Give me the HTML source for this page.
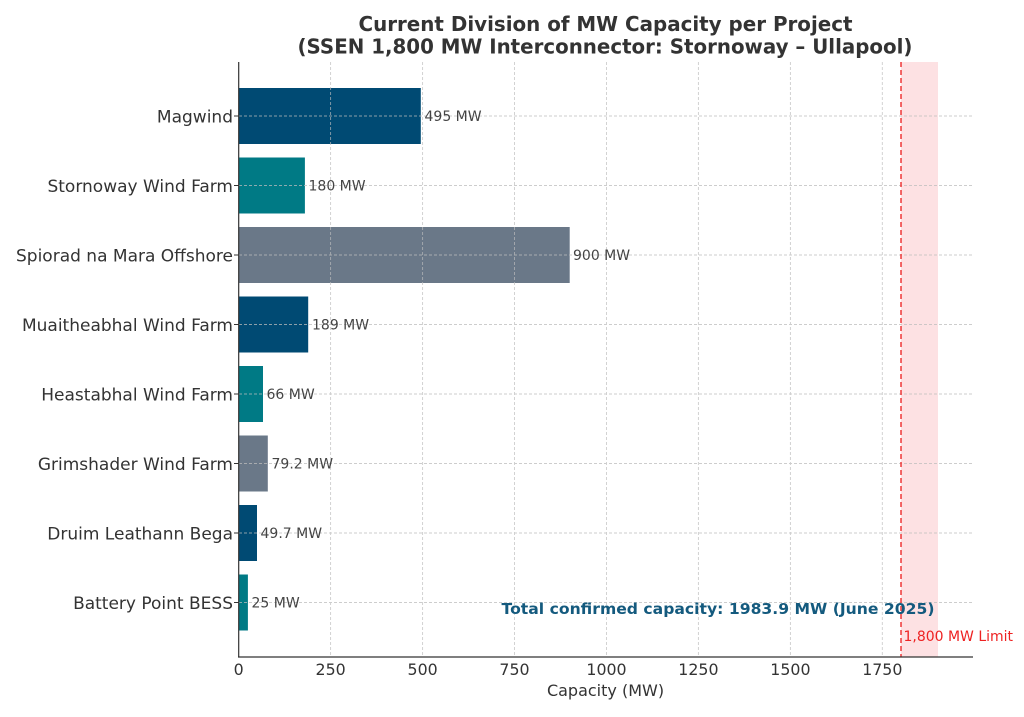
<!DOCTYPE html>
<html><head><meta charset="utf-8"><style>
html,body{margin:0;padding:0;background:#fff;}
svg{display:block;}
text{font-family:"DejaVu Sans","Liberation Sans",sans-serif;}
</style></head><body>
<svg width="1024" height="717" viewBox="0 0 1024 717" xmlns="http://www.w3.org/2000/svg">
<rect width="1024" height="717" fill="#fff"/>
<!-- title -->
<text x="605.5" y="31" text-anchor="middle" font-size="20" font-weight="bold" fill="#333" textLength="494" lengthAdjust="spacingAndGlyphs">Current Division of MW Capacity per Project</text>
<text x="605" y="53.5" text-anchor="middle" font-size="20" font-weight="bold" fill="#333" textLength="615" lengthAdjust="spacingAndGlyphs">(SSEN 1,800 MW Interconnector: Stornoway – Ullapool)</text>

<!-- shaded region & limit -->
<rect x="901" y="62" width="37" height="595" fill="#fde1e3"/>

<!-- bars -->
<g>
<rect x="238.7" y="88" width="182.1" height="56" fill="#004a73"/>
<rect x="238.7" y="157.5" width="66.2" height="56" fill="#007a85"/>
<rect x="238.7" y="227" width="331" height="56" fill="#6a7888"/>
<rect x="238.7" y="296.5" width="69.5" height="56" fill="#004a73"/>
<rect x="238.7" y="366" width="24.3" height="56" fill="#007a85"/>
<rect x="238.7" y="435.5" width="29.1" height="56" fill="#6a7888"/>
<rect x="238.7" y="505" width="18.3" height="56" fill="#004a73"/>
<rect x="238.7" y="574.5" width="9.2" height="56" fill="#007a85"/>
</g>

<!-- grid -->
<g stroke="#bdbdbd" stroke-width="0.9" stroke-dasharray="3,2" opacity="0.75">
<line x1="330.6" y1="62" x2="330.6" y2="657"/>
<line x1="422.6" y1="62" x2="422.6" y2="657"/>
<line x1="514.5" y1="62" x2="514.5" y2="657"/>
<line x1="606.5" y1="62" x2="606.5" y2="657"/>
<line x1="698.4" y1="62" x2="698.4" y2="657"/>
<line x1="790.4" y1="62" x2="790.4" y2="657"/>
<line x1="882.3" y1="62" x2="882.3" y2="657"/>
<line x1="239" y1="116" x2="973" y2="116"/>
<line x1="239" y1="185.5" x2="973" y2="185.5"/>
<line x1="239" y1="255" x2="973" y2="255"/>
<line x1="239" y1="324.5" x2="973" y2="324.5"/>
<line x1="239" y1="394" x2="973" y2="394"/>
<line x1="239" y1="463.5" x2="973" y2="463.5"/>
<line x1="239" y1="533" x2="973" y2="533"/>
<line x1="239" y1="602.5" x2="973" y2="602.5"/>
</g>

<line x1="901" y1="62" x2="901" y2="657" stroke="#ee2a2a" stroke-width="1.4" stroke-dasharray="5,3"/>

<!-- spines -->
<line x1="238.7" y1="62" x2="238.7" y2="657.5" stroke="#333" stroke-width="1.2"/>
<line x1="238" y1="657" x2="973" y2="657" stroke="#333" stroke-width="1.2"/>

<!-- y ticks -->
<g stroke="#333" stroke-width="1">
<line x1="234" y1="116" x2="238.7" y2="116"/>
<line x1="234" y1="185.5" x2="238.7" y2="185.5"/>
<line x1="234" y1="255" x2="238.7" y2="255"/>
<line x1="234" y1="324.5" x2="238.7" y2="324.5"/>
<line x1="234" y1="394" x2="238.7" y2="394"/>
<line x1="234" y1="463.5" x2="238.7" y2="463.5"/>
<line x1="234" y1="533" x2="238.7" y2="533"/>
<line x1="234" y1="602.5" x2="238.7" y2="602.5"/>
</g>

<!-- y labels -->
<g font-size="17" fill="#333" text-anchor="end">
<text x="233" y="122.5">Magwind</text>
<text x="233" y="192">Stornoway Wind Farm</text>
<text x="233" y="261.5">Spiorad na Mara Offshore</text>
<text x="233" y="331">Muaitheabhal Wind Farm</text>
<text x="233" y="400.5">Heastabhal Wind Farm</text>
<text x="233" y="470">Grimshader Wind Farm</text>
<text x="233" y="539.5">Druim Leathann Bega</text>
<text x="233" y="609">Battery Point BESS</text>
</g>

<!-- value labels -->
<g font-size="14" fill="#444">
<text x="424.5" y="121">495 MW</text>
<text x="308.5" y="190.5">180 MW</text>
<text x="573" y="260">900 MW</text>
<text x="312" y="329.5">189 MW</text>
<text x="266.5" y="399">66 MW</text>
<text x="271.5" y="468.5">79.2 MW</text>
<text x="260.5" y="538">49.7 MW</text>
<text x="251.5" y="607.5">25 MW</text>
</g>

<!-- x tick labels -->
<g font-size="15.8" fill="#333" text-anchor="middle">
<text x="238.7" y="675">0</text>
<text x="330.6" y="675">250</text>
<text x="422.6" y="675">500</text>
<text x="514.5" y="675">750</text>
<text x="606.5" y="675">1000</text>
<text x="698.4" y="675">1250</text>
<text x="790.4" y="675">1500</text>
<text x="882.3" y="675">1750</text>
</g>
<text x="605.5" y="696" font-size="16" fill="#333" text-anchor="middle">Capacity (MW)</text>

<!-- annotations -->
<text x="501.5" y="614" font-size="15" font-weight="bold" fill="#145a7e" textLength="433" lengthAdjust="spacingAndGlyphs">Total confirmed capacity: 1983.9 MW (June 2025)</text>
<text x="903.5" y="641" font-size="14" fill="#ee2222" textLength="109.5" lengthAdjust="spacingAndGlyphs">1,800 MW Limit</text>
</svg>
</body></html>
